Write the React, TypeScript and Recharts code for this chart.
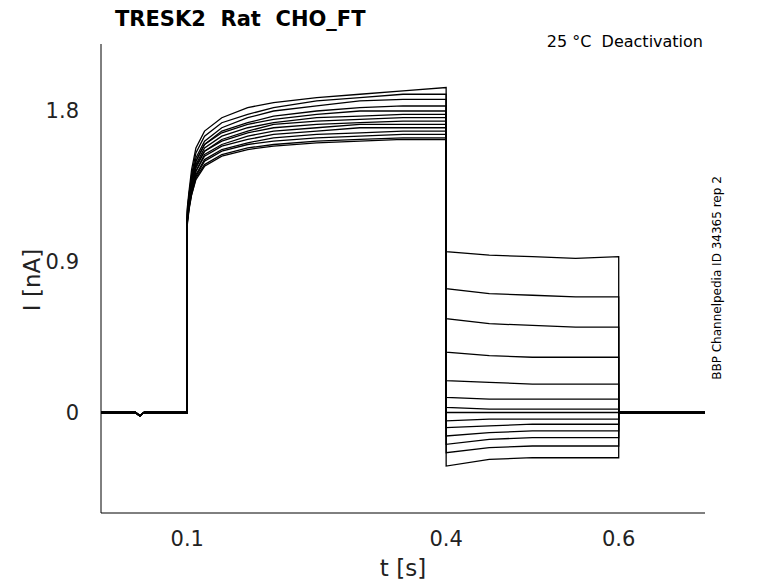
import React from 'react';
import { LineChart, Line, XAxis, YAxis } from 'recharts';

// time points of each trace (s)
const times = [0, 0.04, 0.045, 0.05, 0.1, 0.1, 0.102, 0.105, 0.11, 0.12, 0.14, 0.17, 0.2, 0.25, 0.3, 0.35, 0.4, 0.4, 0.45, 0.5, 0.55, 0.6, 0.6, 0.7];

// current values (nA), one array per sweep, aligned with times
const sweeps = [
  [0, 0, -0.02, 0, 0, 1.22, 1.32, 1.45, 1.58, 1.68, 1.76, 1.82, 1.85, 1.88, 1.9, 1.92, 1.94, 0.96, 0.94, 0.93, 0.92, 0.93, 0, 0],
  [0, 0, -0.02, 0, 0, 1.2, 1.3, 1.42, 1.55, 1.65, 1.73, 1.78, 1.82, 1.86, 1.88, 1.9, 1.9, 0.74, 0.71, 0.7, 0.69, 0.69, 0, 0],
  [0, 0, -0.02, 0, 0, 1.18, 1.28, 1.4, 1.52, 1.62, 1.7, 1.76, 1.8, 1.83, 1.86, 1.87, 1.87, 0.56, 0.53, 0.52, 0.51, 0.51, 0, 0],
  [0, 0, -0.02, 0, 0, 1.2, 1.3, 1.4, 1.5, 1.6, 1.68, 1.73, 1.77, 1.8, 1.82, 1.83, 1.83, 0.36, 0.34, 0.33, 0.33, 0.33, 0, 0],
  [0, 0, -0.02, 0, 0, 1.16, 1.26, 1.38, 1.5, 1.6, 1.67, 1.72, 1.75, 1.78, 1.8, 1.8, 1.8, 0.19, 0.18, 0.17, 0.17, 0.17, 0, 0],
  [0, 0, -0.02, 0, 0, 1.18, 1.27, 1.37, 1.48, 1.58, 1.65, 1.7, 1.73, 1.76, 1.77, 1.78, 1.78, 0.09, 0.08, 0.08, 0.08, 0.08, 0, 0],
  [0, 0, -0.02, 0, 0, 1.15, 1.25, 1.35, 1.46, 1.56, 1.63, 1.68, 1.72, 1.74, 1.75, 1.76, 1.76, 0.03, 0.02, 0.02, 0.02, 0.02, 0, 0],
  [0, 0, -0.02, 0, 0, 1.17, 1.26, 1.36, 1.47, 1.56, 1.62, 1.67, 1.7, 1.72, 1.73, 1.74, 1.74, 0.0, 0.0, 0.0, 0.0, 0.0, 0, 0],
  [0, 0, -0.02, 0, 0, 1.14, 1.24, 1.34, 1.44, 1.54, 1.6, 1.65, 1.68, 1.7, 1.72, 1.72, 1.72, -0.05, -0.04, -0.04, -0.04, -0.04, 0, 0],
  [0, 0, -0.02, 0, 0, 1.16, 1.25, 1.34, 1.44, 1.53, 1.59, 1.63, 1.66, 1.68, 1.7, 1.7, 1.7, -0.09, -0.08, -0.07, -0.07, -0.07, 0, 0],
  [0, 0, -0.02, 0, 0, 1.13, 1.22, 1.32, 1.42, 1.51, 1.57, 1.61, 1.64, 1.66, 1.67, 1.68, 1.68, -0.14, -0.12, -0.11, -0.11, -0.11, 0, 0],
  [0, 0, -0.02, 0, 0, 1.15, 1.23, 1.32, 1.41, 1.5, 1.56, 1.6, 1.62, 1.64, 1.65, 1.66, 1.66, -0.19, -0.16, -0.15, -0.15, -0.15, 0, 0],
  [0, 0, -0.02, 0, 0, 1.12, 1.21, 1.3, 1.4, 1.48, 1.54, 1.58, 1.6, 1.62, 1.63, 1.64, 1.64, -0.24, -0.21, -0.2, -0.2, -0.2, 0, 0],
  [0, 0, -0.02, 0, 0, 1.14, 1.22, 1.3, 1.39, 1.47, 1.53, 1.57, 1.59, 1.61, 1.62, 1.63, 1.63, -0.32, -0.28, -0.27, -0.27, -0.27, 0, 0],
];

const xTicks = [0.1, 0.4, 0.6];
const yTicks = [0, 0.9, 1.8];

const font = 'DejaVu Sans, sans-serif';

export default function App() {
  return (
    <div style={{ position: 'absolute', left: 0, top: 0, width: 778, height: 583, background: '#fff', fontFamily: font }}>
      <LineChart width={778} height={583} margin={{ top: 44, right: 73, bottom: 0, left: 0 }}>
        <XAxis type="number" dataKey="t" domain={[0, 0.7]} ticks={xTicks} tickLine={false} height={70}
          allowDuplicatedCategory={false}
          stroke="#000" tick={{ fill: '#222', fontSize: 21, fontFamily: font }} tickMargin={12} />
        <YAxis type="number" dataKey="v" domain={[-0.6, 2.2]} ticks={yTicks} width={101} tickLine={false}
          stroke="#000" tick={{ fill: '#222', fontSize: 21, fontFamily: font }} tickMargin={16} />
        {sweeps.map((s, i) => (
          <Line key={i} data={s.map((v, j) => ({ t: times[j], v }))} dataKey="v" type="linear"
            stroke="#000" strokeWidth={1.3} dot={false} isAnimationActive={false} />
        ))}
        <text x={403} y={576} fontSize={23} fontFamily={font} fill="#222" textAnchor="middle">t [s]</text>
        <text x={40} y={280} fontSize={23} fontFamily={font} fill="#222" textAnchor="middle" transform="rotate(-90 40 280)">I [nA]</text>
        <text x={115} y={26} fontSize={21} fontWeight="bold" fontFamily={font} fill="#000" style={{ whiteSpace: 'pre' }}>{'TRESK2\u00a0\u00a0Rat\u00a0\u00a0CHO_FT'}</text>
        <text x={703} y={47} fontSize={16} fontFamily={font} fill="#000" textAnchor="end">{'25 °C\u00a0\u00a0Deactivation'}</text>
        <text x={721} y={278} fontSize={12} fontFamily={font} fill="#000" textAnchor="middle" transform="rotate(-90 721 278)">BBP Channelpedia ID 34365 rep 2</text>
      </LineChart>
    </div>
  );
}
